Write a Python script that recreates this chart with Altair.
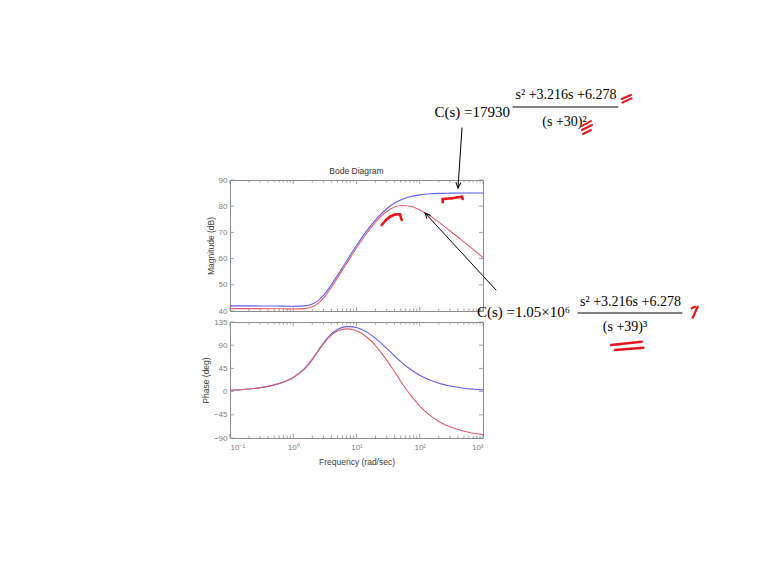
import altair as alt
import pandas as pd

# ---------------- data ----------------
freq = [0.1, 0.2, 0.3, 0.5, 0.7, 1, 1.5, 2, 2.5, 3, 4, 5, 7, 8, 10, 15, 20, 30,
        40, 50, 70, 100, 150, 200, 300, 500, 1000]
mag_c1 = [41.94, 41.94, 41.93, 41.89, 41.85, 41.80, 41.94, 42.65, 44.04, 45.92,
          49.98, 53.60, 59.20, 61.40, 64.99, 71.05, 74.81, 79.03, 81.19, 82.39,
          83.60, 84.32, 84.73, 84.88, 84.98, 85.04, 85.06]
mag_c2 = [40.91, 40.91, 40.90, 40.86, 40.83, 40.76, 40.90, 41.60, 43.01, 44.90,
          48.97, 52.59, 58.22, 60.43, 64.05, 70.16, 73.93, 77.97, 79.67, 80.24,
          79.99, 78.57, 76.04, 73.91, 70.65, 66.36, 60.40]
phase_c1 = [2.56, 5.13, 7.71, 13.03, 18.58, 27.54, 44.42, 62.87, 80.27, 94.34,
            111.89, 120.43, 125.94, 126.12, 124.19, 114.43, 103.34, 83.84, 69.12,
            58.23, 43.77, 31.56, 21.39, 16.14, 10.81, 6.49, 3.26]
phase_c2 = [2.50, 5.01, 7.54, 12.74, 18.17, 26.95, 43.53, 61.69, 78.80, 92.56,
            109.51, 117.43, 121.68, 121.20, 117.92, 104.45, 89.27, 61.13, 38.22,
            20.16, -5.27, -27.94, -47.52, -57.83, -68.38, -76.99, -83.48]
series_names = ["C1", "C2"]
mag_ticks = [40, 50, 60, 70, 80, 90]
phase_ticks = [-90, -45, 0, 45, 90, 135]
decade_ticks = [0.1, 1, 10, 100, 1000]
minor_ticks = [2e-1, 3e-1, 4e-1, 5e-1, 6e-1, 7e-1, 8e-1, 9e-1,
               2, 3, 4, 5, 6, 7, 8, 9,
               20, 30, 40, 50, 60, 70, 80, 90,
               200, 300, 400, 500, 600, 700, 800, 900]

formula1_left = "C(s) =17930"
formula1_num = "s² +3.216s +6.278"
formula1_den = "(s +30)²"
formula2_left = "C(s) =1.05×10⁶"
formula2_num = "s² +3.216s +6.278"
formula2_den = "(s +39)³"

# ---------------- styling ----------------
W, H1, H2 = 253, 131, 116
BLUE = "#5f5ff0"
RED = "#e0606c"
TICK = "#8c8c8c"
HAND = "#e8141e"
SERIF = "Liberation Serif"
SANS = "Liberation Sans"

df = pd.DataFrame({
    "freq": freq * 2,
    "mag": mag_c1 + mag_c2,
    "phase": phase_c1 + phase_c2,
    "series": [series_names[0]] * len(freq) + [series_names[1]] * len(freq),
})

xscale = alt.Scale(type="log", domain=[0.1, 1000], nice=False)
cscale = alt.Scale(domain=series_names, range=[BLUE, RED])
one = alt.Data(values=[{"k": 1}])


def tick_layers(yscale, yvals, H, xaxis, yaxis):
    layers = []
    for vals, L in [(decade_ticks, 4), (minor_ticks, 2.5)]:
        d = pd.DataFrame({"f": vals})
        base = alt.Chart(d).mark_rule(color=TICK, strokeWidth=0.8)
        layers.append(base.encode(x=alt.X("f:Q", scale=xscale, axis=xaxis),
                                  y=alt.value(0), y2=alt.value(L)))
        layers.append(base.encode(x=alt.X("f:Q", scale=xscale, axis=xaxis),
                                  y=alt.value(H), y2=alt.value(H - L)))
    d = pd.DataFrame({"v": yvals})
    base = alt.Chart(d).mark_rule(color=TICK, strokeWidth=0.8)
    layers.append(base.encode(y=alt.Y("v:Q", scale=yscale, axis=yaxis),
                              x=alt.value(0), x2=alt.value(4)))
    layers.append(base.encode(y=alt.Y("v:Q", scale=yscale, axis=yaxis),
                              x=alt.value(W), x2=alt.value(W - 4)))
    return layers


def seg(x1, y1, x2, y2, color="black", width=1.0):
    return alt.Chart(one).mark_rule(color=color, strokeWidth=width, strokeCap="round").encode(
        x=alt.value(x1), y=alt.value(y1), x2=alt.value(x2), y2=alt.value(y2))


def stroke(points, width=2.6):
    return [seg(points[i][0], points[i][1], points[i + 1][0], points[i + 1][1], HAND, width)
            for i in range(len(points) - 1)]


def txt(t, x, y, size, align="center", font=SERIF, color="black"):
    return alt.Chart(alt.Data(values=[{"t": t}])).mark_text(
        align=align, baseline="middle", fontSize=size, font=font, color=color
    ).encode(x=alt.value(x), y=alt.value(y), text="t:N")


def arrowhead(x, y, angle):
    return alt.Chart(one).mark_point(
        shape="M-0.45,-1L0,0L0.45,-1", size=130, filled=False, color="black",
        strokeWidth=1, angle=angle, opacity=1
    ).encode(x=alt.value(x), y=alt.value(y))


# ---------------- magnitude panel ----------------
mag_scale = alt.Scale(domain=[40, 90], nice=False, zero=False)
mag_axis = alt.Axis(values=mag_ticks, title="Magnitude (dB)", labelPadding=3, titlePadding=3)
mag_lines = alt.Chart(df).mark_line(strokeWidth=1.1, interpolate="monotone").encode(
    x=alt.X("freq:Q", scale=xscale, axis=None),
    y=alt.Y("mag:Q", scale=mag_scale, axis=mag_axis),
    color=alt.Color("series:N", scale=cscale, legend=None),
)

annotations = [
    txt("Bode Diagram", W / 2, -9, 8.5, font=SANS, color="#333333"),
    # formula 1
    txt(formula1_left, 280, -68, 15, align="right"),
    txt(formula1_num, 336, -85, 14),
    seg(283, -73, 388, -73),
    txt(formula1_den, 334.5, -58, 14),
    # formula 2
    txt(formula2_left, 340, 132, 15, align="right"),
    txt(formula2_num, 400.5, 122, 14),
    seg(348, 133, 452, 133),
    txt(formula2_den, 395, 147, 14),
    # arrows
    seg(232, -52, 228, 8),
    arrowhead(228, 8, 4),
    seg(266, 110, 195, 33),
    arrowhead(195, 33, 137),
]
hand = []
hand += stroke([(391.7, -81), (401, -85)], 2.0)
hand += stroke([(392.3, -77.3), (401.7, -81.7)], 2.0)
hand += stroke([(352, -54), (361, -59)], 2.0)
hand += stroke([(352, -50), (362, -55)], 2.0)
hand += stroke([(353, -46), (361, -50)], 2.0)
hand += stroke([(151.7, 45), (156, 40), (160, 36.7), (165, 34.5), (170, 34.3), (171.7, 40)])
hand += stroke([(212.7, 22.3), (212.7, 19), (221.7, 18.3), (231.7, 16.7), (232.7, 19)])
hand += stroke([(461.7, 128.3), (465, 126.7)], 2.2)
hand += stroke([(462.7, 137.7), (467.7, 126.7)], 2.2)
hand += stroke([(381, 165), (411.7, 161.7)])
hand += stroke([(385, 170), (413.3, 167.7)])

top = alt.layer(mag_lines, *tick_layers(mag_scale, mag_ticks, H1, None, mag_axis),
                *annotations, *hand).properties(width=W, height=H1)

# ---------------- phase panel ----------------
ph_scale = alt.Scale(domain=[-90, 135], nice=False, zero=False)
label_expr = ("datum.value < 0.5 ? '10⁻¹' : datum.value < 5 ? '10⁰' : "
              "datum.value < 50 ? '10¹' : datum.value < 500 ? '10²' : '10³'")
freq_axis = alt.Axis(values=decade_ticks, labelExpr=label_expr,
                     title="Frequency  (rad/sec)", labelPadding=5, titlePadding=6)
ph_axis = alt.Axis(values=phase_ticks, title="Phase (deg)", labelPadding=3, titlePadding=3)
ph_lines = alt.Chart(df).mark_line(strokeWidth=1.1, interpolate="monotone").encode(
    x=alt.X("freq:Q", scale=xscale, axis=freq_axis),
    y=alt.Y("phase:Q", scale=ph_scale, axis=ph_axis),
    color=alt.Color("series:N", scale=cscale, legend=None),
)
bottom = alt.layer(ph_lines, *tick_layers(ph_scale, phase_ticks, H2, freq_axis, ph_axis)).properties(
    width=W, height=H2)

chart = alt.vconcat(top, bottom, spacing=11, bounds="flush").properties(
    padding={"left": 200, "top": 87, "right": 5, "bottom": 5},
    background="white",
).configure_view(stroke=TICK, strokeWidth=1).configure_axis(
    labelFont=SANS, titleFont=SANS, labelColor="#808080", titleColor="#404040",
    labelFontSize=8, titleFontSize=8.5, titleFontWeight="normal",
    ticks=False, domain=False, grid=False,
)

chart.save("out.html", embed_options={"renderer": "svg", "actions": False})
